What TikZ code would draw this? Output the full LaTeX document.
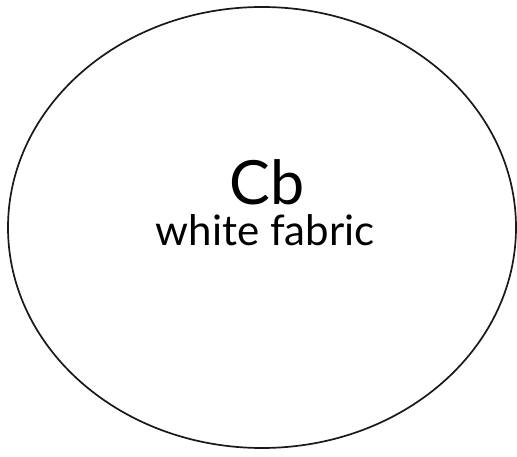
\documentclass[tikz,border=0pt]{standalone}
\usepackage{fontspec}
\setmainfont{Lato}
\begin{document}
\begin{tikzpicture}[x=1pt,y=-1pt,
  outline/.style={draw=black!90,line width=1.7pt},
  bigtext/.style={font=\fontsize{61}{70}\selectfont,anchor=base,inner sep=0pt},
  smalltext/.style={font=\fontsize{42}{50}\selectfont,anchor=base,inner sep=0pt}]
\useasboundingbox (0,0) rectangle (517,457);
\draw[outline] (262,227.5) ellipse [x radius=254, y radius=220.5];
\node[bigtext] (cb) at (267,205) {Cb};
\node[smalltext] (wf) at (265,246) {white fabric};
\end{tikzpicture}
\end{document}
